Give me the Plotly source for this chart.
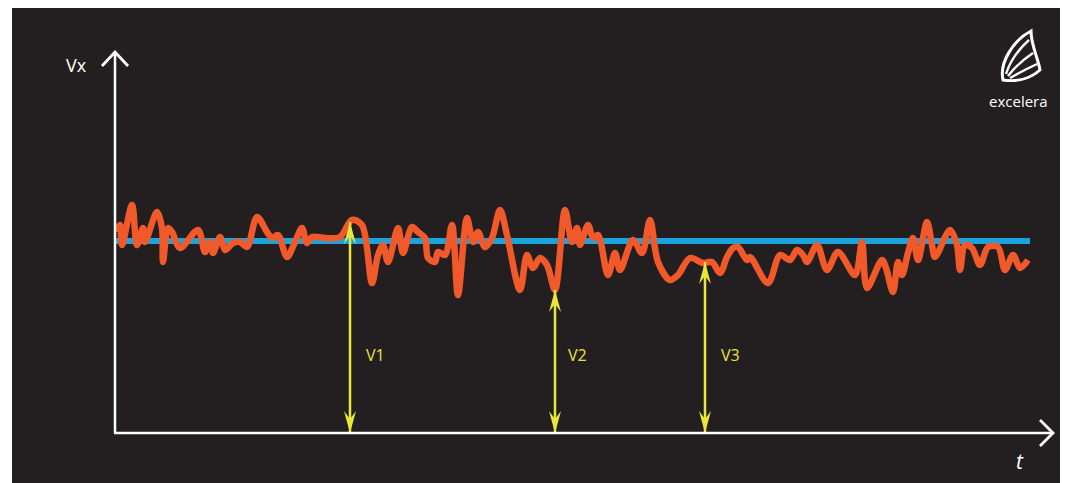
import plotly.graph_objects as go

# ---- data (t in plot units, Vx in plot units; baseline at Vx=0) ----
signal_t = [2, 5, 7, 17, 22, 28, 30, 42, 47, 48, 53, 57, 65, 83, 90, 95, 98, 105, 110, 118,
            125, 132, 142, 152, 157, 163, 172, 180, 187, 192, 197, 210, 225, 237, 247, 257, 263,
            268, 273, 283, 288, 297, 303, 310, 313, 320, 323, 330, 337, 343, 352, 358, 363, 370,
            377, 385, 392, 405, 412, 418, 425, 432, 440, 450, 457, 462, 465, 473, 478, 483, 493,
            500, 505, 518, 527, 535, 543, 555, 563, 575, 588, 597, 605, 612, 618, 623, 632, 635,
            653, 665, 675, 682, 688, 692, 702, 712, 723, 740, 747, 752, 767, 771, 778, 783, 787,
            793, 798, 803, 812, 817, 820, 835, 842, 845, 850, 857, 865, 873, 883, 890, 898, 905,
            913]
signal_v = [201, 208, 188, 228, 188, 205, 191, 221, 205, 171, 205, 201, 185, 203, 181, 191, 180,
            196, 183, 190, 191, 186, 216, 201, 195, 198, 176, 191, 205, 190, 196, 195, 196, 213,
            208, 150, 178, 188, 171, 205, 180, 206, 201, 195, 175, 171, 181, 178, 208, 138, 215,
            191, 201, 186, 195, 223, 198, 143, 178, 165, 175, 168, 143, 223, 191, 205, 188, 208,
            195, 198, 158, 180, 163, 193, 180, 213, 171, 153, 158, 175, 170, 171, 160, 176, 185,
            186, 173, 176, 150, 178, 173, 183, 178, 171, 188, 163, 181, 158, 191, 145, 173, 165,
            141, 171, 158, 180, 195, 173, 211, 188, 176, 203, 188, 163, 188, 185, 168, 186, 186,
            163, 178, 165, 173]
mean_t = [0, 915]
mean_v = [192, 192]
arrow_t = [235, 440, 590]
arrow_v = [211, 143, 171]
arrow_labels = ["V1", "V2", "V3"]
label_t = [260, 462, 615]
label_v = [78, 78, 78]

BG = "#231f20"
ORANGE = "#f1592a"
BLUE = "#1ba3dd"
YELLOW = "#e9e63c"
WHITE = "#ffffff"

OFF = 8                      # page body margin
W, H = 1068 - OFF, 483 - OFF  # figure size
L, R, T, B = 115 - OFF, 16, 55 - OFF, 50
PW, PH = W - L - R, H - T - B


# page pixel -> paper coords
def px(x):
    return (x - 115) / PW


def py(y):
    return (433 - y) / PH


fig = go.Figure()

fig.add_trace(go.Scatter(x=mean_t, y=mean_v, mode="lines",
                         line=dict(color=BLUE, width=6), hoverinfo="skip"))
fig.add_trace(go.Scatter(x=signal_t, y=signal_v, mode="lines",
                         line=dict(color=ORANGE, width=6.5, shape="spline", smoothing=0.9),
                         hoverinfo="skip"))

# yellow measurement arrows
ax_x, ax_y = [], []
for t, v in zip(arrow_t, arrow_v):
    ax_x += [t, t, None]
    ax_y += [0, v, None]
fig.add_trace(go.Scatter(x=ax_x, y=ax_y, mode="lines",
                         line=dict(color=YELLOW, width=2.5), hoverinfo="skip"))

shapes = []
hw, hl, hn = 6, 22, 14
for t, v in zip(arrow_t, arrow_v):
    shapes.append(dict(type="path", xref="x", yref="y", fillcolor=YELLOW, line=dict(width=0),
                       path=f"M {t-hw},{v-hl} L {t},{v} L {t+hw},{v-hl} L {t},{v-hn} Z"))
    shapes.append(dict(type="path", xref="x", yref="y", fillcolor=YELLOW, line=dict(width=0),
                       path=f"M {t-hw},{hl} L {t},0 L {t+hw},{hl} L {t},{hn} Z"))

# thin white left edge
shapes.append(dict(type="rect", xref="paper", yref="paper", layer="below",
                   x0=px(8), x1=px(12), y0=py(484), y1=py(7),
                   fillcolor=WHITE, line=dict(width=0)))
# axes
shapes.append(dict(type="line", xref="paper", yref="paper",
                   x0=px(115), y0=py(433), x1=px(115), y1=py(53),
                   line=dict(color=WHITE, width=2.5)))
shapes.append(dict(type="line", xref="paper", yref="paper",
                   x0=px(114), y0=py(433), x1=px(1051), y1=py(433),
                   line=dict(color=WHITE, width=2.5)))
shapes.append(dict(type="path", xref="paper", yref="paper",
                   path=f"M {px(102)},{py(66)} L {px(115)},{py(52)} L {px(128)},{py(66)}",
                   line=dict(color=WHITE, width=2.8)))
shapes.append(dict(type="path", xref="paper", yref="paper",
                   path=f"M {px(1040)},{py(420)} L {px(1053)},{py(433)} L {px(1040)},{py(446)}",
                   line=dict(color=WHITE, width=2.8)))

# logo (sail shape)
logo_outline = ("M {},{} C {},{} {},{} {},{} C {},{} {},{} {},{} C {},{} {},{} {},{} Z".format(
    px(1003), py(80), px(999), py(62), px(1014), py(40), px(1031), py(31),
    px(1031), py(45), px(1038), py(58), px(1040), py(70),
    px(1030), py(79), px(1016), py(82), px(1003), py(80)))
shapes.append(dict(type="path", xref="paper", yref="paper", path=logo_outline,
                   line=dict(color=WHITE, width=3)))
for (x0, y0, cx, cy, x1, y1) in [(1006, 74, 1012, 55, 1029, 40),
                                 (1008, 76, 1018, 63, 1033, 53),
                                 (1010, 78, 1022, 71, 1037, 64)]:
    shapes.append(dict(type="path", xref="paper", yref="paper",
                       path=f"M {px(x0)},{py(y0)} Q {px(cx)},{py(cy)} {px(x1)},{py(y1)}",
                       line=dict(color=WHITE, width=2.4)))

annotations = []
for t, v, s in zip(label_t, label_v, arrow_labels):
    annotations.append(dict(x=t, y=v, xref="x", yref="y", text=s, showarrow=False,
                            xanchor="center", yanchor="middle",
                            font=dict(family="Open Sans", size=16, color=YELLOW)))
for (x, y, s, size) in [(76, 65, "Vx", 18), (1020, 461, "<i>t</i>", 21),
                        (1018, 101, "excelera", 15)]:
    annotations.append(dict(x=px(x), y=py(y), xref="paper", yref="paper", text=s,
                            showarrow=False, xanchor="center", yanchor="middle",
                            font=dict(family="Open Sans", size=size, color=WHITE)))

fig.update_layout(
    width=W, height=H,
    margin=dict(l=L, r=R, t=T, b=B),
    paper_bgcolor=BG, plot_bgcolor=BG,
    showlegend=False,
    shapes=shapes, annotations=annotations,
    xaxis=dict(range=[0, PW], visible=False, fixedrange=True),
    yaxis=dict(range=[0, PH], visible=False, fixedrange=True),
)

fig.write_html("out.html", config={"displayModeBar": False})
